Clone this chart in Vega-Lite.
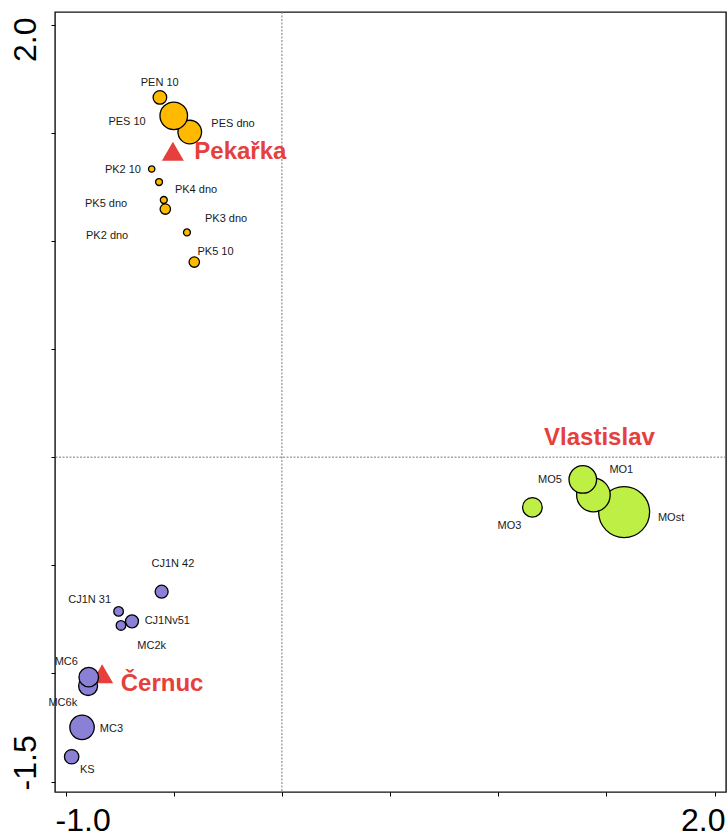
{
  "$schema": "https://vega.github.io/schema/vega-lite/v6.json",
  "autosize": "none",
  "width": 671,
  "height": 780,
  "padding": {"left": 55, "top": 12, "right": 2, "bottom": 44},
  "background": "white",
  "config": {
    "view": {"stroke": "#111", "strokeWidth": 1.4},
    "font": "Liberation Sans"
  },
  "datasets": {
    "origin": [{"o": 0}],
    "samples": [
      {"site": "Pekařka", "name": "PES dno", "pc1": -0.426, "pc2": 1.503, "weight": 139, "lx": -0.226, "ly": 1.539},
      {"site": "Pekařka", "name": "PEN 10", "pc1": -0.564, "pc2": 1.663, "weight": 46, "lx": -0.565, "ly": 1.731},
      {"site": "Pekařka", "name": "PES 10", "pc1": -0.500, "pc2": 1.578, "weight": 190, "lx": -0.716, "ly": 1.549},
      {"site": "Pekařka", "name": "PK2 10", "pc1": -0.602, "pc2": 1.332, "weight": 10, "lx": -0.735, "ly": 1.329},
      {"site": "Pekařka", "name": "PK4 dno", "pc1": -0.568, "pc2": 1.272, "weight": 12, "lx": -0.397, "ly": 1.233},
      {"site": "Pekařka", "name": "PK5 dno", "pc1": -0.546, "pc2": 1.189, "weight": 12, "lx": -0.813, "ly": 1.172},
      {"site": "Pekařka", "name": "PK2 dno", "pc1": -0.539, "pc2": 1.147, "weight": 27, "lx": -0.808, "ly": 1.022},
      {"site": "Pekařka", "name": "PK3 dno", "pc1": -0.439, "pc2": 1.039, "weight": 12, "lx": -0.258, "ly": 1.099},
      {"site": "Pekařka", "name": "PK5 10", "pc1": -0.405, "pc2": 0.902, "weight": 27, "lx": -0.307, "ly": 0.950},
      {"site": "Vlastislav", "name": "MOst", "pc1": 1.582, "pc2": -0.254, "weight": 650, "lx": 1.799, "ly": -0.282},
      {"site": "Vlastislav", "name": "MO1", "pc1": 1.440, "pc2": -0.175, "weight": 282, "lx": 1.569, "ly": -0.060},
      {"site": "Vlastislav", "name": "MO5", "pc1": 1.391, "pc2": -0.103, "weight": 190, "lx": 1.239, "ly": -0.106},
      {"site": "Vlastislav", "name": "MO3", "pc1": 1.158, "pc2": -0.232, "weight": 96, "lx": 1.052, "ly": -0.317},
      {"site": "Černuc", "name": "CJ1N 42", "pc1": -0.556, "pc2": -0.622, "weight": 42, "lx": -0.504, "ly": -0.494},
      {"site": "Černuc", "name": "CJ1Nv51", "pc1": -0.693, "pc2": -0.759, "weight": 42, "lx": -0.530, "ly": -0.758},
      {"site": "Černuc", "name": "MC2k", "pc1": -0.744, "pc2": -0.778, "weight": 23, "lx": -0.602, "ly": -0.875},
      {"site": "Černuc", "name": "CJ1N 31", "pc1": -0.755, "pc2": -0.713, "weight": 23, "lx": -0.889, "ly": -0.661},
      {"site": "Černuc", "name": "MC6k", "pc1": -0.896, "pc2": -1.058, "weight": 90, "lx": -1.013, "ly": -1.138},
      {"site": "Černuc", "name": "MC6", "pc1": -0.893, "pc2": -1.017, "weight": 96, "lx": -0.997, "ly": -0.949},
      {"site": "Černuc", "name": "MC3", "pc1": -0.924, "pc2": -1.249, "weight": 149, "lx": -0.788, "ly": -1.256},
      {"site": "Černuc", "name": "KS", "pc1": -0.972, "pc2": -1.385, "weight": 52, "lx": -0.900, "ly": -1.447}
    ],
    "centroids": [
      {"site": "Pekařka", "pc1": -0.504, "pc2": 1.414, "lx": -0.405, "ly": 1.413},
      {"site": "Vlastislav", "pc1": 1.434, "pc2": -0.171, "lx": 1.212, "ly": 0.090},
      {"site": "Černuc", "pc1": -0.831, "pc2": -1.001, "lx": -0.745, "ly": -1.047}
    ]
  },
  "encoding": {
    "x": {"type": "quantitative", "scale": {"domain": [-1.049, 2.053], "nice": false, "zero": false},
      "axis": {
        "title": null, "domain": false, "grid": false,
        "values": [-1, -0.5, 0, 0.5, 1, 1.5, 2],
        "labelExpr": "datum.value == -1 ? '-1.0' : datum.value == 2 ? '2.0' : ''",
        "labelFont": "Liberation Sans", "labelFontSize": 32, "labelColor": "#000",
        "labelFlush": false, "labelOverlap": false, "labelBaseline": "top",
        "labelPadding": 9.5,
        "labelAlign": {"condition": {"test": "datum.value < 0", "value": "left"}, "value": "right"},
        "labelOffset": {"condition": {"test": "datum.value < 0", "value": -10.5}, "value": 10.5},
        "tickSize": 4, "tickColor": "#000", "tickWidth": 1
      }},
    "y": {"type": "quantitative", "scale": {"domain": [-1.548, 2.058], "nice": false, "zero": false},
      "axis": {
        "title": null, "domain": false, "grid": false,
        "values": [-1.5, -1, -0.5, 0, 0.5, 1, 1.5, 2],
        "labelExpr": "datum.value == -1.5 ? '-1.5' : datum.value == 2 ? '2.0' : ''",
        "labelFont": "Liberation Sans", "labelFontSize": 32, "labelColor": "#000",
        "labelAngle": 270, "labelFlush": false, "labelOverlap": false, "labelBaseline": "alphabetic",
        "labelPadding": 15.5,
        "labelAlign": {"condition": {"test": "datum.value > 0", "value": "right"}, "value": "left"},
        "labelOffset": {"condition": {"test": "datum.value > 0", "value": -7.6}, "value": 8.3},
        "tickSize": 4, "tickColor": "#000", "tickWidth": 1
      }}
  },
  "layer": [
    {
      "data": {"name": "origin"},
      "mark": {"type": "rule", "color": "#7a7a7a", "strokeWidth": 1, "strokeDash": [2, 1.5]},
      "encoding": {"x": {"field": "o"}}
    },
    {
      "data": {"name": "origin"},
      "mark": {"type": "rule", "color": "#7a7a7a", "strokeWidth": 1, "strokeDash": [2, 1.5]},
      "encoding": {"y": {"field": "o"}}
    },
    {
      "data": {"name": "centroids"},
      "mark": {"type": "point", "shape": "triangle-up", "filled": true, "size": 484, "color": "#E5403C", "opacity": 1},
      "encoding": {
        "x": {"field": "pc1"},
        "y": {"field": "pc2"}
      }
    },
    {
      "data": {"name": "samples"},
      "mark": {"type": "circle", "stroke": "#000", "strokeWidth": 1.3, "opacity": 1},
      "encoding": {
        "x": {"field": "pc1"},
        "y": {"field": "pc2"},
        "size": {"field": "weight", "type": "quantitative", "scale": {"domain": [0, 700], "range": [0, 2800], "zero": true}, "legend": null},
        "color": {"field": "site", "type": "nominal", "scale": {"domain": ["Pekařka", "Vlastislav", "Černuc"], "range": ["#FFBA00", "#BEEF45", "#8A80D6"]}, "legend": null}
      }
    },
    {
      "data": {"name": "samples"},
      "mark": {"type": "text", "font": "Liberation Sans", "fontSize": 11, "color": "#1a1a1a", "align": "center", "baseline": "middle"},
      "encoding": {
        "x": {"field": "lx"},
        "y": {"field": "ly"},
        "text": {"field": "name"}
      }
    },
    {
      "data": {"name": "centroids"},
      "mark": {"type": "text", "font": "Liberation Sans", "fontSize": 24, "fontWeight": "bold", "color": "#E5403C", "align": "left", "baseline": "middle"},
      "encoding": {
        "x": {"field": "lx"},
        "y": {"field": "ly"},
        "text": {"field": "site"}
      }
    }
  ]
}
